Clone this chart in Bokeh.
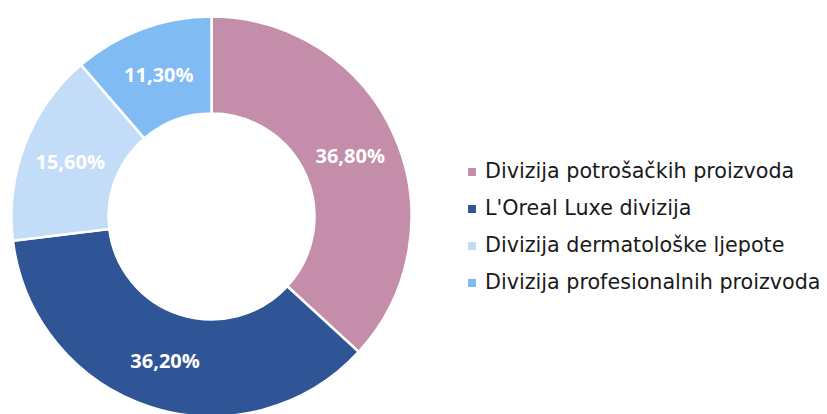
import math
from bokeh.plotting import figure
from bokeh.models import Legend, LegendItem, Range1d, ColumnDataSource
from bokeh.core.properties import value
from bokeh.embed import file_html
from bokeh.resources import INLINE

categories = ["Divizija potrošačkih proizvoda", "L'Oreal Luxe divizija",
              "Divizija dermatološke ljepote", "Divizija profesionalnih proizvoda"]
shares = [36.8, 36.2, 15.6, 11.3]
labels = ["36,80%", "36,20%", "15,60%", "11,30%"]
colors = ["#C48DA9", "#2F5597", "#C3DCF7", "#80BBF3"]

W, H = 827, 414
cx, cy = 211, 198
r_in, r_out = 103, 200

total = sum(shares)
starts, ends, lx, ly = [], [], [], []
cum = 0.0
for s in shares:
    a0 = math.pi / 2 - 2 * math.pi * cum / total
    cum += s
    a1 = math.pi / 2 - 2 * math.pi * cum / total
    starts.append(a0)
    ends.append(a1)
    mid = (a0 + a1) / 2
    rm = (r_in + r_out) / 2
    lx.append(cx + rm * math.cos(mid))
    ly.append(cy + rm * math.sin(mid))

src = ColumnDataSource(dict(start=starts, end=ends, color=colors, cat=categories,
                            lx=lx, ly=ly, lab=labels))

p = figure(width=W, height=H, output_backend="svg", toolbar_location=None,
           x_range=Range1d(0, W), y_range=Range1d(0, H), min_border=0)
p.axis.visible = False
p.grid.visible = False
p.outline_line_color = None
p.background_fill_color = "white"

r = p.annular_wedge(x=cx, y=cy, inner_radius=r_in, outer_radius=r_out,
                    start_angle="start", end_angle="end", direction="clock",
                    fill_color="color", line_color="white", line_width=2.5,
                    source=src)

p.text(x="lx", y="ly", text="lab", source=src, text_color="white",
       text_font=value("Open Sans"), text_font_style="bold",
       text_font_size="20px", text_align="center", text_baseline="middle")

items = [LegendItem(label=c, renderers=[r], index=i) for i, c in enumerate(categories)]
legend = Legend(items=items, location=(465, 120), orientation="vertical",
                border_line_color=None, background_fill_alpha=0,
                padding=0, margin=0, spacing=13,
                glyph_width=13, glyph_height=13, label_standoff=7,
                label_text_font="DejaVu Sans", label_text_font_size="20.7px",
                label_text_color="#1a1a1a", label_height=24)
p.add_layout(legend, "center")

open("out.html", "w").write(file_html(p, INLINE))
